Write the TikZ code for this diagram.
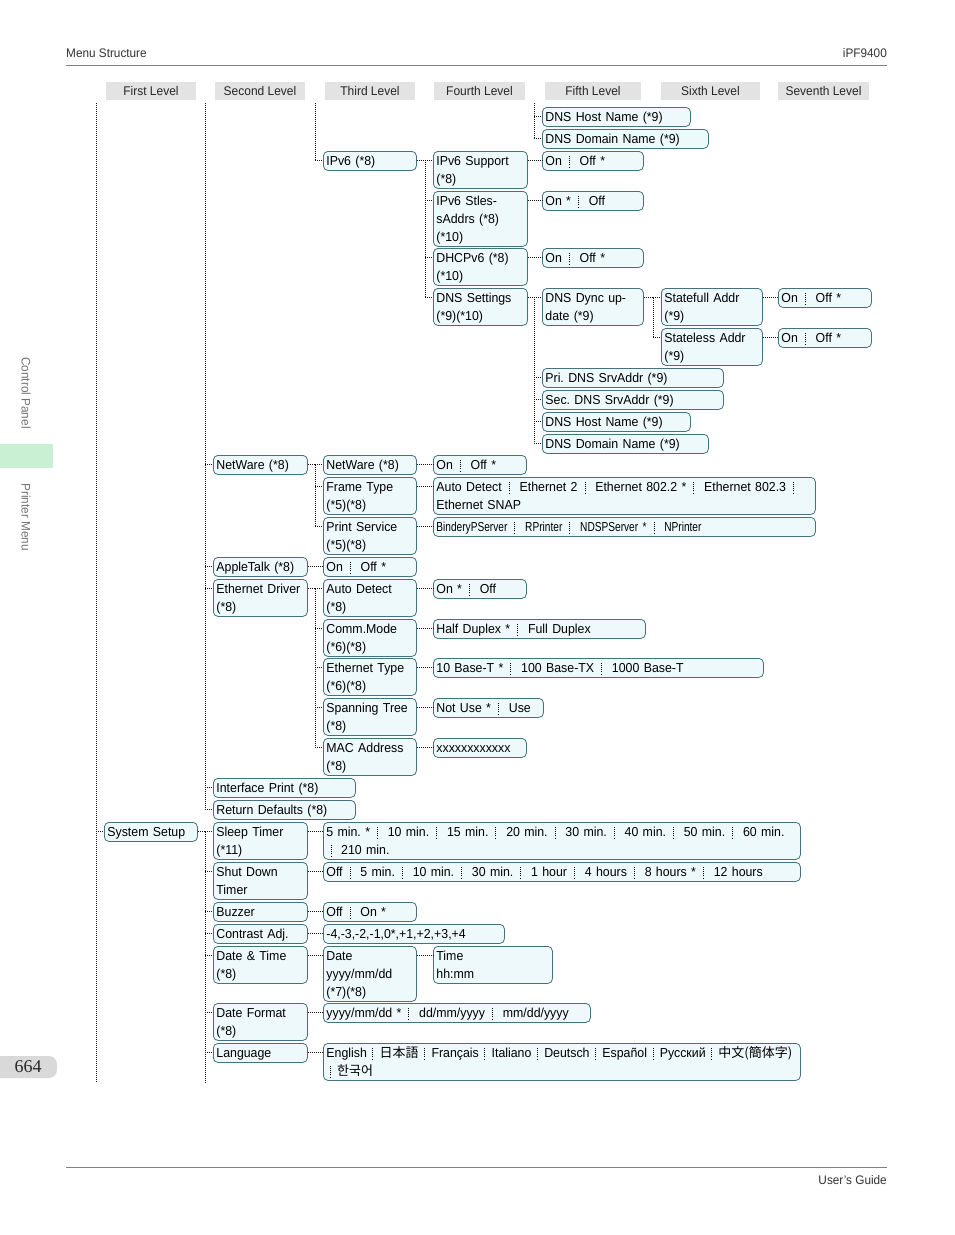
\documentclass[tikz,border=0pt]{standalone}
\usepackage{fontspec}
\setmainfont{Liberation Sans}[FakeStretch=0.95]
\newfontfamily\cjk{Noto Sans CJK JP}
\newfontfamily\pnfont{Liberation Serif}
\usetikzlibrary{calc}
\definecolor{bxline}{HTML}{45727F}
\definecolor{bxfill}{HTML}{EEF9FB}
\definecolor{hdrgray}{HTML}{E3E3E3}
\definecolor{pggray}{HTML}{D9D9D9}
\definecolor{tabgreen}{HTML}{C9F0D2}
\definecolor{inkgray}{HTML}{333333}
\definecolor{connc}{HTML}{111111}
\frenchspacing
\newcommand\mystrut{\rule[-3pt]{0pt}{14.5pt}}
\newcommand\dotsep{\raisebox{-2.5pt}{\vbox{\offinterlineskip
  \hrule width .8pt height 1pt\kern1.2pt\hrule width .8pt height 1pt\kern1.2pt
  \hrule width .8pt height 1pt\kern1.2pt\hrule width .8pt height 1pt\kern1.2pt
  \hrule width .8pt height 1pt\kern1.2pt\hrule width .8pt height 1pt}}}
\newcommand\vs{\hspace{7pt}\dotsep\hspace{10pt}}
\newcommand\vn{\hspace{5.5pt}\dotsep\hspace{6.5pt}}
\tikzset{
  mbox/.style={draw=bxline, fill=bxfill, rounded corners=4.5pt, anchor=north west,
    inner xsep=3pt, inner ysep=0pt, align=left, line width=0.8pt,
    font=\fontsize{13}{18}\selectfont,
    execute at begin node=\mystrut, execute at end node=\mystrut},
  hdrbox/.style={fill=hdrgray, minimum height=18pt, inner sep=0pt,
    font=\fontsize{12.6}{14}\selectfont, text=black!85},
  conn/.style={draw=connc, line width=1pt, dash pattern=on 1pt off 1pt},
  pagetxt/.style={font=\fontsize{12.4}{14}\selectfont, text=inkgray, inner sep=0pt}
}
\newcommand\bx[6]{\pgfmathsetmacro\tw{#4-6}%
  \node[mbox, minimum width=#4pt, minimum height=#5pt, text width=\tw pt] (#1) at (#2,#3) {#6};}
\newcommand\mylink[2]{\draw[conn] ([yshift=-9pt]#1.north east) -- ([yshift=-9pt]#2.north west);}
\newcommand\mytap[1]{\draw[conn] ([xshift=-8pt,yshift=-9pt]#1.north west) -- ([yshift=-9pt]#1.north west);}
\newcommand\mytrunk[3]{\draw[conn] ([yshift=-9pt]#1.north east) -- ([xshift=-8pt,yshift=-9pt]#2.north west) -- ([xshift=-8pt,yshift=-9pt]#3.north west);}
\begin{document}
\begin{tikzpicture}[x=1pt,y=-1pt]
\useasboundingbox (0,0) rectangle (954,1235);
\fill[white] (0,0) rectangle (954,1235);

% page furniture
\node[pagetxt, anchor=west] (mstruct) at (66,53) {Menu Structure};
\node[pagetxt, anchor=east] (model) at (887,53) {iPF9400};
\coordinate (hl1) at (66,65);
\coordinate (hl2) at (887,65);
\draw[gray, line width=0.8pt] (hl1) -- (hl2);
\coordinate (fl1) at (66,1167);
\coordinate (fl2) at (887,1167);
\draw[gray, line width=0.8pt] (fl1) -- (fl2);
\node[pagetxt, anchor=east] (guide) at (887,1180) {User's Guide};
\fill[pggray, rounded corners=8pt] (-12,1056) rectangle (57,1078);
\node[font=\pnfont\fontsize{18}{20}\selectfont, text=black!85] (pnum) at (28,1067) {664};
\fill[tabgreen] (0,444) rectangle (53,468);
\node[pagetxt, rotate=-90, text=gray!90!black] (cpanel) at (26,393) {Control Panel};
\node[pagetxt, rotate=-90, text=gray!90!black] (pmenu) at (26,517) {Printer Menu};

% level headers
\node[hdrbox, minimum width=90pt] (h1) at (151,91) {First Level};
\node[hdrbox, minimum width=90pt] (h2) at (260,91) {Second Level};
\node[hdrbox, minimum width=90pt] (h3) at (370,91) {Third Level};
\node[hdrbox, minimum width=91pt] (h4) at (479.5,91) {Fourth Level};
\node[hdrbox, minimum width=96pt] (h5) at (593,91) {Fifth Level};
\node[hdrbox, minimum width=99pt] (h6) at (710.5,91) {Sixth Level};
\node[hdrbox, minimum width=91pt] (h7) at (823.5,91) {Seventh Level};

% ---------- top block ----------
\bx{dnsHostA}{542}{107}{148}{19}{DNS Host Name (*9)}
\bx{dnsDomA}{542}{129}{166}{19}{DNS Domain Name (*9)}
\bx{ipv6}{323}{151}{93}{19}{IPv6 (*8)}
\bx{ipsup}{433}{151}{94}{37}{IPv6 Support\\(*8)}
\bx{ipsupv}{542}{151}{101}{19}{On\vs Off *}
\bx{stless}{433}{191}{94}{55}{IPv6 Stles-\\sAddrs (*8)\\(*10)}
\bx{stlessv}{542}{191}{101}{19}{On *\vs Off}
\bx{dhcp}{433}{248}{94}{37}{DHCPv6 (*8)\\(*10)}
\bx{dhcpv}{542}{248}{101}{19}{On\vs Off *}
\bx{dnsset}{433}{288}{94}{37}{DNS Settings\\(*9)(*10)}
\bx{dyn}{542}{288}{101}{37}{DNS Dync up-\\date (*9)}
\bx{stfull}{661}{288}{101}{37}{Statefull Addr\\(*9)}
\bx{stfullv}{778}{288}{93}{19}{On\vs Off *}
\bx{stl}{661}{328}{101}{37}{Stateless Addr\\(*9)}
\bx{stlv}{778}{328}{93}{19}{On\vs Off *}
\bx{pri}{542}{368}{181}{19}{Pri. DNS SrvAddr (*9)}
\bx{sec}{542}{390}{181}{19}{Sec. DNS SrvAddr (*9)}
\bx{dnsHostB}{542}{412}{148}{19}{DNS Host Name (*9)}
\bx{dnsDomB}{542}{434}{166}{19}{DNS Domain Name (*9)}

% ---------- middle block ----------
\bx{nw2}{213}{455}{94}{19}{NetWare (*8)}
\bx{nw3}{323}{455}{93}{19}{NetWare (*8)}
\bx{nw3v}{433}{455}{93}{19}{On\vs Off *}
\bx{frame}{323}{477}{93}{37}{Frame Type\\(*5)(*8)}
\bx{framev}{433}{477}{382}{37}{Auto Detect\vs Ethernet 2\vs Ethernet 802.2 *\vs Ethernet 802.3\hspace{7pt}\dotsep\\Ethernet SNAP}
\bx{psvc}{323}{517}{93}{37}{Print Service\\(*5)(*8)}
\bx{psvcv}{433}{517}{382}{19}{\addfontfeatures{FakeStretch=0.78}BinderyPServer\vs RPrinter\vs NDSPServer *\vs NPrinter}
\bx{atalk}{213}{557}{94}{19}{AppleTalk (*8)}
\bx{atalkv}{323}{557}{93}{19}{On\vs Off *}
\bx{ethdrv}{213}{579}{94}{37}{Ethernet Driver\\(*8)}
\bx{auto}{323}{579}{93}{37}{Auto Detect\\(*8)}
\bx{autov}{433}{579}{93}{19}{On *\vs Off}
\bx{comm}{323}{619}{93}{37}{Comm.Mode\\(*6)(*8)}
\bx{commv}{433}{619}{212}{19}{Half Duplex *\vs Full Duplex}
\bx{ethtype}{323}{658}{93}{37}{Ethernet Type\\(*6)(*8)}
\bx{ethtypev}{433}{658}{330}{19}{10 Base-T *\vs 100 Base-TX\vs 1000 Base-T}
\bx{spant}{323}{698}{93}{37}{Spanning Tree\\(*8)}
\bx{spantv}{433}{698}{110}{19}{Not Use *\vs Use}
\bx{mac}{323}{738}{93}{37}{MAC Address\\(*8)}
\bx{macv}{433}{738}{93}{19}{xxxxxxxxxxxx}
\bx{ifp}{213}{778}{142}{19}{Interface Print (*8)}
\bx{retd}{213}{800}{142}{19}{Return Defaults (*8)}

% ---------- bottom block ----------
\bx{sys}{104}{822}{93}{19}{System Setup}
\bx{sleep}{213}{822}{94}{37}{Sleep Timer\\(*11)}
\bx{sleepv}{323}{822}{477}{37}{5 min. *\vs 10 min.\vs 15 min.\vs 20 min.\vs 30 min.\vs 40 min.\vs 50 min.\vs 60 min.\\\hspace*{5pt}\dotsep\hspace{9pt}210 min.}
\bx{shut}{213}{862}{94}{37}{Shut Down\\Timer}
\bx{shutv}{323}{862}{477}{19}{Off\vs 5 min.\vs 10 min.\vs 30 min.\vs 1 hour\vs 4 hours\vs 8 hours *\vs 12 hours}
\bx{buzz}{213}{902}{94}{19}{Buzzer}
\bx{buzzv}{323}{902}{93}{19}{Off\vs On *}
\bx{contr}{213}{924}{94}{19}{Contrast Adj.}
\bx{contrv}{323}{924}{181}{19}{-4,-3,-2,-1,0*,+1,+2,+3,+4}
\bx{dt}{213}{946}{94}{37}{Date \& Time\\(*8)}
\bx{date}{323}{946}{93}{55}{Date\\yyyy/mm/dd\\(*7)(*8)}
\bx{time}{433}{946}{119}{37}{Time\\hh:mm}
\bx{dfmt}{213}{1003}{94}{37}{Date Format\\(*8)}
\bx{dfmtv}{323}{1003}{267}{19}{yyyy/mm/dd *\vs dd/mm/yyyy\vs mm/dd/yyyy}
\bx{lang}{213}{1043}{94}{19}{Language}
\bx{langv}{323}{1043}{477}{37}{English\vn{\cjk 日本語}\vn Français\vn Italiano\vn Deutsch\vn Español\vn Русский\vn{\cjk 中文(簡体字)}\\\hspace*{4pt}\dotsep\hspace{6pt}{\cjk 한국어}}

% ---------- connectors ----------
% continuation trunks
\coordinate (t1top) at (96,103);
\coordinate (t1bot) at (96,1083);
\draw[conn] (t1top) -- (t1bot);
\mytap{sys}
\coordinate (t2top) at (205,103);
\draw[conn] (t2top) -- ([xshift=-8pt,yshift=-9pt]retd.north west);
\foreach \c in {nw2,atalk,ethdrv,ifp,retd} {\mytap{\c}}
\coordinate (t2bot) at (205,1083);
\coordinate (t3top) at (315,103);
\draw[conn] (t3top) -- ([xshift=-8pt,yshift=-9pt]ipv6.north west);
\mytap{ipv6}
\coordinate (t5top) at (534,103);
\draw[conn] (t5top) -- ([xshift=-8pt,yshift=-9pt]dnsDomA.north west);
\mytap{dnsHostA}
\mytap{dnsDomA}

% trees
\mytrunk{ipv6}{ipsup}{dnsset}
\foreach \c in {ipsup,stless,dhcp,dnsset} {\mytap{\c}}
\mytrunk{dnsset}{dyn}{dnsDomB}
\foreach \c in {dyn,pri,sec,dnsHostB,dnsDomB} {\mytap{\c}}
\mytrunk{dyn}{stfull}{stl}
\foreach \c in {stfull,stl} {\mytap{\c}}
\mytrunk{nw2}{nw3}{psvc}
\foreach \c in {nw3,frame,psvc} {\mytap{\c}}
\mytrunk{ethdrv}{auto}{mac}
\foreach \c in {auto,comm,ethtype,spant,mac} {\mytap{\c}}
\mytrunk{sys}{sleep}{lang}
\draw[conn] ([xshift=-8pt,yshift=-9pt]lang.north west) -- (t2bot);
\foreach \c in {sleep,shut,buzz,contr,dt,dfmt,lang} {\mytap{\c}}

% straight links
\mylink{ipsup}{ipsupv}
\mylink{stless}{stlessv}
\mylink{dhcp}{dhcpv}
\mylink{stfull}{stfullv}
\mylink{stl}{stlv}
\mylink{nw3}{nw3v}
\mylink{frame}{framev}
\mylink{psvc}{psvcv}
\mylink{atalk}{atalkv}
\mylink{auto}{autov}
\mylink{comm}{commv}
\mylink{ethtype}{ethtypev}
\mylink{spant}{spantv}
\mylink{mac}{macv}
\mylink{sleep}{sleepv}
\mylink{shut}{shutv}
\mylink{buzz}{buzzv}
\mylink{contr}{contrv}
\mylink{dt}{date}
\mylink{date}{time}
\mylink{dfmt}{dfmtv}
\mylink{lang}{langv}
\end{tikzpicture}
\end{document}
